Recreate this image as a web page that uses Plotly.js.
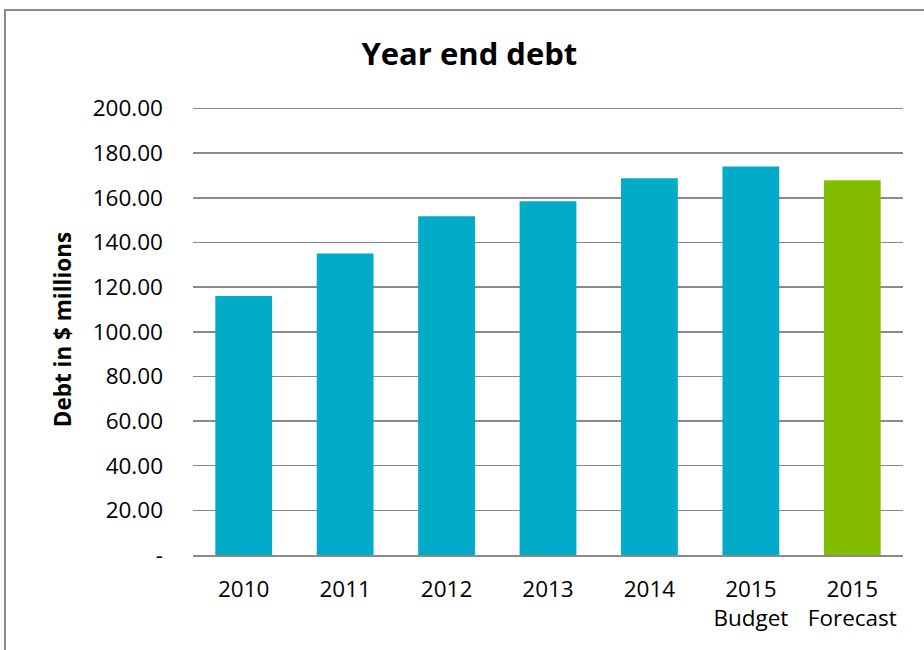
<!DOCTYPE html>
<html>
<head>
<meta charset="utf-8">
<script src="https://cdn.plot.ly/plotly-3.0.1.min.js"></script>
<style>
  html, body { margin: 0; padding: 0; background: #fff; overflow: hidden; }
  #wrap { position: relative; width: 924px; height: 650px; }
  #chart { position: absolute; left: 0; top: 0; width: 924px; height: 650px; }
  #frame { position: absolute; left: 4px; top: 9px; width: 1000px; height: 1000px;
           border: 2px solid #8a8a8a; pointer-events: none; box-sizing: border-box; }
</style>
</head>
<body>
<div id="wrap">
  <div id="chart"></div>
  <div id="frame"></div>
</div>
<script>
// ---- data ----
const categories = ['2010', '2011', '2012', '2013', '2014', '2015<br>Budget', '2015<br>Forecast'];
const debtValues = [116, 135, 151.7, 158.4, 168.7, 174, 167.8];
const barColors = ['#02abc8', '#02abc8', '#02abc8', '#02abc8', '#02abc8', '#02abc8', '#84bc00'];
const yTickVals = [0, 20, 40, 60, 80, 100, 120, 140, 160, 180, 200];
const yTickText = ['-', '20.00', '40.00', '60.00', '80.00', '100.00', '120.00', '140.00', '160.00', '180.00', '200.00'];

const FONT = '"Open Sans", "Noto Sans", sans-serif';

const trace = {
  type: 'bar',
  x: categories,
  y: debtValues,
  marker: { color: barColors, line: { width: 0 } },
  hoverinfo: 'x+y'
};

const layout = {
  width: 924,
  height: 650,
  paper_bgcolor: '#ffffff',
  plot_bgcolor: '#ffffff',
  margin: { l: 193, r: 21, t: 104, b: 95, pad: 0 },
  bargap: 0.44,
  showlegend: false,
  title: {
    text: '<b>Year end debt</b>',
    font: { family: FONT, size: 31, color: '#000' },
    x: 0.508, xanchor: 'center',
    y: 1 - 54 / 650, yanchor: 'middle'
  },
  xaxis: {
    type: 'category',
    tickfont: { family: FONT, size: 22.5, color: '#000' },
    ticks: '',
    showgrid: false,
    showline: true,
    linecolor: '#8a8a8a',
    linewidth: 2,
    ticklabelstandoff: 13,
    fixedrange: true
  },
  yaxis: {
    range: [0, 202],
    tickvals: yTickVals,
    ticktext: yTickText,
    tickfont: { family: FONT, size: 22.5, color: '#000' },
    ticks: '',
    showgrid: true,
    gridcolor: '#8a8a8a',
    gridwidth: 1.6,
    zeroline: false,
    showline: false,
    ticklabelstandoff: 29,
    title: {
      text: '<b>Debt in $ millions</b>',
      font: { family: FONT, size: 22.5, color: '#000' },
      standoff: 14
    },
    automargin: false,
    fixedrange: true
  }
};

Plotly.newPlot('chart', [trace], layout, { displayModeBar: false, staticPlot: true });
</script>
</body>
</html>
